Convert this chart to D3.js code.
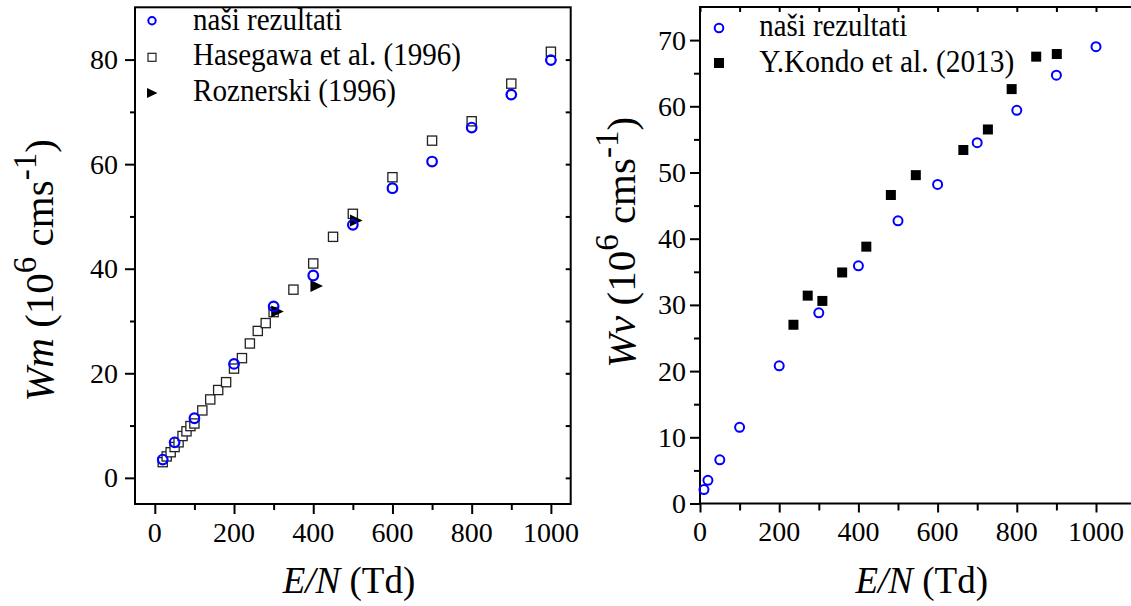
<!DOCTYPE html>
<html><head><meta charset="utf-8">
<script src="https://cdn.jsdelivr.net/npm/d3@7"></script>
</head><body style="margin:0">
<svg id="c" width="1131" height="606"></svg>
<script>
// Left panel: drift velocity Wm
const nasiLeftE = [20, 50, 100, 200, 300, 400, 500, 600, 700, 800, 900, 1000];
const nasiLeftW = [3.5, 6.8, 11.4, 21.8, 32.8, 38.7, 48.4, 55.4, 60.5, 67.0, 73.3, 79.9];
const hasegawaE = [20, 30, 40, 50, 60, 70, 80, 90, 100, 120, 140, 160, 180, 200, 220, 240, 260, 280, 300, 350, 400, 450, 500, 600, 700, 800, 900, 1000];
const hasegawaW = [3.0, 4.1, 4.9, 5.9, 6.8, 8.0, 8.9, 9.9, 10.4, 12.9, 15.0, 16.8, 18.3, 20.9, 22.9, 25.7, 28.1, 29.6, 31.7, 36.0, 41.0, 46.1, 50.5, 57.5, 64.5, 68.2, 75.4, 81.5];
const roznerskiE = [309, 408, 508];
const roznerskiW = [31.8, 36.7, 49.2];
// Right panel: Wv
const nasiRightE = [10, 20, 50, 100, 200, 300, 400, 500, 600, 700, 800, 900, 1000];
const nasiRightW = [2.1, 3.5, 6.6, 11.5, 20.8, 28.8, 35.9, 42.7, 48.2, 54.5, 59.4, 64.7, 69.0];
const kondoE = [236, 272, 309, 359, 420, 482, 545, 665, 727, 787, 849, 901];
const kondoW = [27.0, 31.4, 30.6, 34.9, 38.8, 46.6, 49.6, 53.4, 56.5, 62.6, 67.5, 67.9];
// Ticks
const leftXTicks = [0, 100, 200, 300, 400, 500, 600, 700, 800, 900, 1000];
const leftXLabels = [0, 200, 400, 600, 800, 1000];
const leftYMajor = [0, 20, 40, 60, 80];
const leftYMinor = [10, 30, 50, 70];
const leftYRight = [0, 10, 20, 30, 40, 50, 60, 70, 80];
const rightXTicks = [0, 100, 200, 300, 400, 500, 600, 700, 800, 900, 1000, 1100];
const rightXLabels = [0, 200, 400, 600, 800, 1000];
const rightYMajor = [0, 10, 20, 30, 40, 50, 60, 70];
const rightYMinor = [5, 15, 25, 35, 45, 55, 65];
const legendLeft = ["naši rezultati", "Hasegawa et al. (1996)", "Roznerski (1996)"];
const legendRight = ["naši rezultati", "Y.Kondo et al. (2013)"];
// text widths measured on the reference (px)
const legendLeftWidths = [149, 268, 203];
const legendRightWidths = [148, 255];

const svg = d3.select("#c");
const BLUE = "#0000ff";
const TICKFONT = 28;
const LEGFS = 31;

function txt(x, y, s, size) {
  return svg.append("text").style("font-family", '"Liberation Serif"')
    .attr("x", x).attr("y", y).attr("font-size", size).text(s);
}
// draw an axis and strip the sans-serif font attributes d3 puts on its group
function axis(g, ax) {
  g.call(ax);
  g.attr("font-family", null).attr("font-size", null).attr("fill", null).attr("text-anchor", null);
  g.select(".domain").remove();
  g.selectAll(".tick text").remove();
  g.selectAll(".tick line").attr("stroke-width", 2);
  return g;
}

// ---------- LEFT PANEL ----------
const xL = d3.scaleLinear().domain([-50, 1050]).range([135, 570.7]);
const yL = d3.scaleLinear().domain([-5, 90]).range([504, 7.3]);
const gL = svg.append("g");

axis(gL.append("g").attr("transform", `translate(0,${yL(-5)})`),
  d3.axisBottom(xL).tickValues(leftXTicks).tickSizeOuter(0))
  .selectAll(".tick line").attr("y2", d => leftXLabels.includes(d) ? 10 : 6);
axis(gL.append("g").attr("transform", `translate(${xL(-50)},0)`),
  d3.axisLeft(yL).tickValues(leftYMajor).tickSize(10));
axis(gL.append("g").attr("transform", `translate(${xL(-50)},0)`),
  d3.axisLeft(yL).tickValues(leftYMinor).tickSize(5));
axis(gL.append("g").attr("transform", `translate(${xL(1050)},0)`),
  d3.axisRight(yL).tickValues(leftYRight).tickSize(-5));

gL.append("rect").attr("x", xL(-50)).attr("y", yL(90)).attr("width", xL(1050) - xL(-50)).attr("height", yL(-5) - yL(90))
  .attr("fill", "none").attr("stroke", "#000").attr("stroke-width", 2);

const hasData = hasegawaE.map((e, i) => [e, hasegawaW[i]]);
gL.append("g").selectAll("rect").data(hasData).join("rect")
  .attr("x", d => xL(d[0]) - 4.6).attr("y", d => yL(d[1]) - 4.6).attr("width", 9.2).attr("height", 9.2)
  .attr("fill", "#fff").attr("stroke", "#222").attr("stroke-width", 1.3);
const rozData = roznerskiE.map((e, i) => [e, roznerskiW[i]]);
const tri = (cx, cy, s) => `M${cx - s * 0.5},${cy - s * 0.5}L${cx + s * 0.55},${cy}L${cx - s * 0.5},${cy + s * 0.5}Z`;
gL.append("g").selectAll("path").data(rozData).join("path")
  .attr("d", d => tri(xL(d[0]), yL(d[1]), 12)).attr("fill", "#000");
const nlData = nasiLeftE.map((e, i) => [e, nasiLeftW[i]]);
gL.append("g").selectAll("circle").data(nlData).join("circle")
  .attr("cx", d => xL(d[0])).attr("cy", d => yL(d[1])).attr("r", 4.8)
  .attr("fill", "none").attr("stroke", BLUE).attr("stroke-width", 2.2);

const legL = gL.append("g");
legL.append("circle").attr("cx", 152).attr("cy", 20.7).attr("r", 3.7).attr("fill", "none").attr("stroke", BLUE).attr("stroke-width", 2);
legL.append("rect").attr("x", 148).attr("y", 53.3).attr("width", 8).attr("height", 8).attr("fill", "#fff").attr("stroke", "#222").attr("stroke-width", 1.2);
legL.append("path").attr("d", tri(152, 93, 10)).attr("fill", "#000");

// ---------- RIGHT PANEL ----------
const xR = d3.scaleLinear().domain([0, 1100]).range([700, 1135.6]);
const yR = d3.scaleLinear().domain([0, 75]).range([503.5, 7]);
const gR = svg.append("g");

axis(gR.append("g").attr("transform", `translate(0,${yR(0)})`),
  d3.axisBottom(xR).tickValues(rightXTicks).tickSizeOuter(0))
  .selectAll(".tick line").attr("y2", d => rightXLabels.includes(d) ? 9 : 7);
axis(gR.append("g").attr("transform", `translate(${xR(0)},0)`),
  d3.axisLeft(yR).tickValues(rightYMajor).tickSize(10));
axis(gR.append("g").attr("transform", `translate(${xR(0)},0)`),
  d3.axisLeft(yR).tickValues(rightYMinor).tickSize(6));
axis(gR.append("g").attr("transform", `translate(0,${yR(75)})`),
  d3.axisTop(xR).tickValues(rightXTicks).tickSize(-5));

gR.append("rect").attr("x", xR(0)).attr("y", yR(75)).attr("width", xR(1100) - xR(0)).attr("height", yR(0) - yR(75))
  .attr("fill", "none").attr("stroke", "#000").attr("stroke-width", 2);

const kData = kondoE.map((e, i) => [e, kondoW[i]]);
gR.append("g").selectAll("rect").data(kData).join("rect")
  .attr("x", d => xR(d[0]) - 5).attr("y", d => yR(d[1]) - 5).attr("width", 10).attr("height", 10).attr("fill", "#000");
const nrData = nasiRightE.map((e, i) => [e, nasiRightW[i]]);
gR.append("g").selectAll("circle").data(nrData).join("circle")
  .attr("cx", d => xR(d[0])).attr("cy", d => yR(d[1])).attr("r", 4.5)
  .attr("fill", "none").attr("stroke", BLUE).attr("stroke-width", 2);

const legR = gR.append("g");
legR.append("circle").attr("cx", 719).attr("cy", 28).attr("r", 4.3).attr("fill", "none").attr("stroke", BLUE).attr("stroke-width", 2);
legR.append("rect").attr("x", 714).attr("y", 58).attr("width", 10).attr("height", 10).attr("fill", "#000");

// ---------- TEXTS ----------
leftXLabels.forEach(d => txt(xL(d), 541.5, d, TICKFONT).attr("text-anchor", "middle"));
leftYMajor.forEach(d => txt(118, yL(d) + 9.5, d, TICKFONT).attr("text-anchor", "end"));
rightXLabels.forEach(d => txt(xR(d), 541, d, TICKFONT).attr("text-anchor", "middle"));
rightYMajor.forEach(d => txt(686, yR(d) + 9.5, d, TICKFONT).attr("text-anchor", "end"));
legendLeft.forEach((d, i) => txt(193, 30 + i * 35.3, d, LEGFS)
  .attr("textLength", legendLeftWidths[i]).attr("lengthAdjust", "spacingAndGlyphs"));
legendRight.forEach((d, i) => txt(759.3, 36 + i * 36, d, LEGFS)
  .attr("textLength", legendRightWidths[i]).attr("lengthAdjust", "spacingAndGlyphs"));

function xTitle(cx) {
  const t = txt(cx, 593, "", 37).attr("text-anchor", "middle");
  t.append("tspan").attr("font-style", "italic").text("E/N");
  t.append("tspan").text(" (Td)");
}
xTitle(349);
xTitle(921.7);

function yTitle(x, y, sym) {
  const t = txt(0, 0, "", 41).attr("transform", `translate(${x},${y}) rotate(-90)`).attr("text-anchor", "middle");
  t.append("tspan").attr("font-style", "italic").text(sym);
  t.append("tspan").text(" (10");
  t.append("tspan").attr("font-size", 33).attr("dy", -17).text("6");
  t.append("tspan").attr("dy", 17).text(" cms");
  t.append("tspan").attr("font-size", 33).attr("dy", -17).text("-1");
  t.append("tspan").attr("dy", 17).text(")");
}
yTitle(53, 270.5, "Wm");
yTitle(635, 242.5, "Wv");
</script>
</body></html>
